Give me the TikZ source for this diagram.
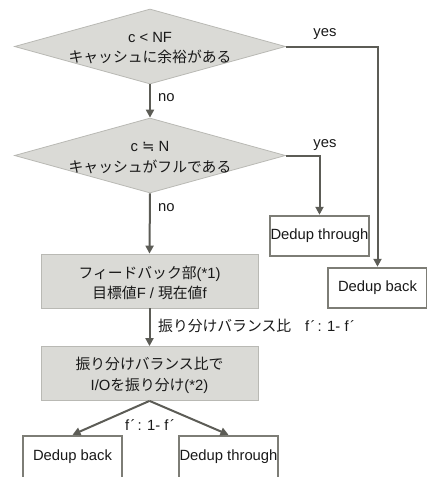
\documentclass[tikz,border=0pt]{standalone}
\usepackage{fontspec}
\setmainfont{Liberation Sans}
\newfontfamily\cjk{Noto Sans CJK JP}
\newfontfamily\symf{DejaVu Sans}
\usetikzlibrary{arrows.meta,shapes.geometric}
\definecolor{grayf}{RGB}{218,218,214}
\definecolor{decb}{RGB}{185,185,180}
\definecolor{wb}{RGB}{125,125,118}
\definecolor{arrc}{RGB}{92,92,86}
\newcommand{\fa}{f\kern1.5pt´\kern2pt}
\begin{document}
\begin{tikzpicture}[x=1pt,y=-1pt,
  every node/.style={font=\fontsize{14.8}{20.5}\selectfont, inner sep=0pt, text=black!90},
  dec/.style={diamond, draw=decb, fill=grayf, line width=0.8pt, minimum width=271pt, minimum height=75pt},
  gbox/.style={rectangle, draw=decb, fill=grayf, line width=0.8pt, minimum width=217pt, minimum height=54pt},
  wbox/.style={rectangle, draw=wb, fill=white, line width=2.5pt, minimum width=99pt, minimum height=40pt},
  arr/.style={draw=arrc, line width=2pt, -{Triangle[length=8pt,width=8pt]}},
  txt/.style={align=center},
  lbl/.style={anchor=west}
]
\useasboundingbox (0,0) rectangle (427,477);

% decisions
\node[dec] (d1) at (150,46.5) {};
\node[txt] (d1t) at (150,48) {c < NF\\{\cjk キャッシュに余裕がある}};
\node[dec] (d2) at (150,155.5) {};
\node[txt] (d2t) at (150,157.5) {c {\symf ≒} N\\{\cjk キャッシュがフルである}};

% process boxes
\node[gbox] (fb) at (149.5,281) {};
\node[txt] (fbt) at (149.5,283) {{\cjk フィードバック部}(*1)\\{\cjk 目標値}F / {\cjk 現在値}f};
\node[gbox] (dist) at (149.5,373.5) {};
\node[txt] (distt) at (149.5,375.5) {{\cjk 振り分けバランス比で}\\I/O{\cjk を振り分け}(*2)};

% result boxes
\node[wbox] (thr1) at (319.5,236) {Dedup through};
\node[wbox] (back1) at (377.5,288) {Dedup back};
\node[wbox, minimum height=44pt] (back2) at (72.5,458) {};
\node (back2t) at (72.5,457) {Dedup back};
\node[wbox, minimum height=44pt] (thr2) at (228.5,458) {};
\node (thr2t) at (228.5,457) {Dedup through};

% connectors
\draw[arr] (d1.south) -- (d2.north);
\draw[arr] (d1.east) -| (back1.north);
\draw[arr] (d2.east) -| (thr1.north);
\draw[arr] (d2.south) -- (fb.north);
\draw[arr] (fb.south) -- (dist.north);
\draw[arr] (dist.south) -- (back2.north);
\draw[arr] (dist.south) -- (thr2.north);

% labels
\node (yes1) at (325,34) {yes};
\node (yes2) at (325,145) {yes};
\node[lbl] (no1) at (158,97.5) {no};
\node[lbl] (no2) at (158,207.5) {no};
\node[lbl] (ratio1) at (158,326) {{\cjk 振り分けバランス比}\kern14pt\fa: 1- \fa};
\node (ratio2) at (151,425) {\fa: 1- \fa};
\end{tikzpicture}
\end{document}
